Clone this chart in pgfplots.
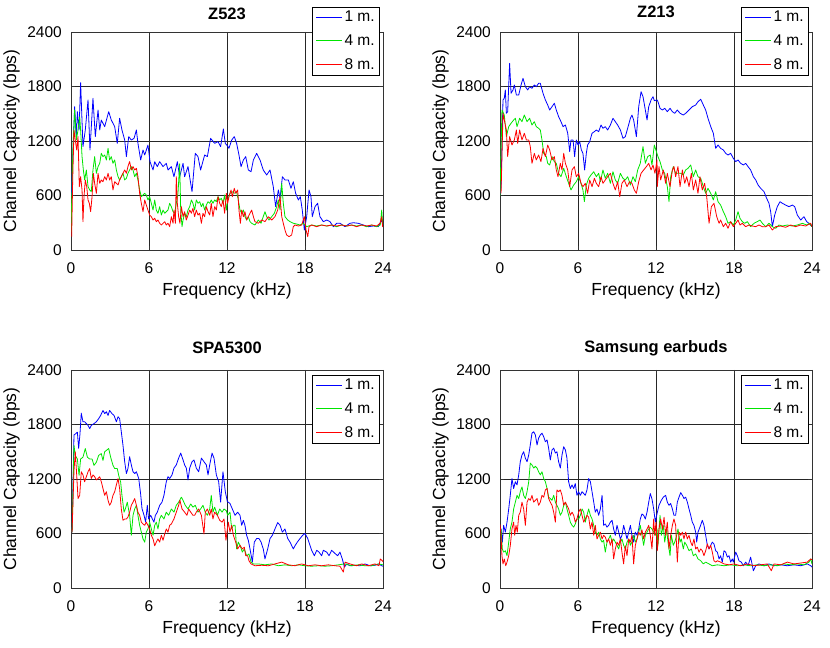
\documentclass[border=0pt]{standalone}
\usepackage{fontspec}
\setmainfont{Liberation Sans}
\usepackage{pgfplots}
\pgfplotsset{compat=1.18}
\definecolor{mblue}{rgb}{0,0,1}
\definecolor{mgreen}{rgb}{0,0.9,0}
\definecolor{mred}{rgb}{1,0,0}
\pgfplotsset{
 capstyle/.style={
  scale only axis, width=312bp, height=218bp,
  xmin=0,xmax=24,ymin=0,ymax=2400,
  xtick={0,6,12,18,24}, ytick={0,600,1200,1800,2400},
  grid=major, major grid style={black!85,line width=0.6bp},
  axis line style={black!80,line width=0.6bp},
  tick align=inside, major tick length=4bp, tick style={black!80, line width=0.6bp},
  /pgf/number format/assume math mode=true,
  /pgf/number format/1000 sep={},
  scaled ticks=false,
  ticklabel style={font=\fontsize{15.5bp}{18bp}\selectfont},
  xticklabel style={inner sep=0pt, anchor=north, yshift=-12bp},
  yticklabel style={inner sep=0pt, anchor=east, xshift=-9bp},
  xlabel={Frequency (kHz)}, ylabel={Channel Capacity (bps)},
  label style={font=\fontsize{17.5bp}{20bp}\selectfont},
  xlabel style={at={(axis description cs:0.5,-0.188)}, anchor=center, inner sep=0pt},
  ylabel style={at={(axis description cs:-0.190,0.5)}, anchor=center, inner sep=0pt},
  title style={font=\bfseries\fontsize{16.5bp}{19bp}\selectfont, anchor=center, inner sep=0pt},
  legend cell align=left,
  legend image code/.code={\draw[mark repeat=2,mark phase=2,#1] plot coordinates {(0bp,0bp) (13bp,0bp) (26bp,0bp)};},
  legend image post style={line width=1.1bp},
  legend style={fill=white, inner xsep=3bp, inner ysep=2bp, row sep=7.5bp,
    font=\fontsize{15.5bp}{18bp}\selectfont},
  every axis plot/.append style={line width=0.8bp, line join=round},
 },
}
\begin{document}
\begin{tikzpicture}
\useasboundingbox (0,0) rectangle (830bp,648bp);
% ---------------- Z523 ----------------
\begin{axis}[capstyle, at={(71bp,398bp)}, anchor=south west, title={Z523},
  title style={at={(axis description cs:0.5,1.055)}},
  legend style={at={(0.990,1.115)}, anchor=north east}]
\addplot[mblue] coordinates {(0.03,600)(0.28,1578)(0.41,1248)(0.49,1523)(0.62,1321)(0.74,1842)(0.92,1138)(1.10,1321)(1.31,1652)(1.46,1101)(1.69,1670)(1.87,1248)(2.08,1541)(2.21,1321)(2.33,1431)(2.59,1358)(2.90,1523)(3.10,1431)(3.36,1358)(3.56,1174)(3.74,1450)(3.92,1321)(4.13,1211)(4.26,1028)(4.44,1248)(4.64,1211)(4.85,1229)(5.03,1321)(5.15,1174)(5.36,991)(5.54,1101)(5.67,1046)(5.92,1156)(6.08,972)(6.31,881)(6.44,972)(6.64,918)(6.82,973)(7.08,918)(7.33,954)(7.46,881)(7.72,918)(7.92,807)(8.18,972)(8.36,807)(8.62,954)(8.74,807)(9.00,918)(9.31,642)(9.56,1064)(9.77,1028)(9.97,881)(10.28,1046)(10.49,1028)(10.74,1229)(11.05,1174)(11.31,1193)(11.51,1138)(11.72,1332)(11.87,1174)(12.08,1138)(12.15,1119)(12.36,1211)(12.56,1248)(12.74,1174)(12.92,1046)(13.08,918)(13.26,991)(13.44,1028)(13.64,881)(13.85,862)(14.03,991)(14.28,1064)(14.54,991)(14.79,881)(15.05,826)(15.31,881)(15.56,697)(15.74,477)(15.95,661)(16.08,569)(16.26,807)(16.46,771)(16.72,771)(16.92,679)(17.10,752)(17.28,624)(17.49,551)(17.64,587)(17.79,440)(17.95,220)(18.13,367)(18.31,661)(18.46,587)(18.56,367)(18.77,477)(18.97,514)(19.15,367)(19.41,312)(19.67,330)(19.92,312)(20.18,257)(20.44,294)(20.69,294)(21.08,257)(21.46,294)(21.72,300)(22.10,294)(22.49,275)(22.87,257)(23.26,264)(23.64,257)(23.90,330)(24.0,280)};
\addlegendentry{1 m.\hspace{16bp}}
\addplot[mgreen] coordinates {(0.0,200)(0.15,1138)(0.28,1541)(0.41,1211)(0.54,1321)(0.67,1468)(0.74,1321)(0.85,1028)(0.95,881)(1.05,771)(1.18,881)(1.31,697)(1.44,661)(1.56,642)(1.69,881)(1.82,1028)(1.95,844)(2.08,918)(2.21,954)(2.33,1064)(2.46,1028)(2.59,1046)(2.72,991)(2.85,1119)(2.97,991)(3.10,1028)(3.23,954)(3.36,991)(3.49,881)(3.62,807)(3.74,771)(3.87,807)(4.00,844)(4.13,771)(4.26,789)(4.38,844)(4.51,881)(4.64,918)(4.77,881)(4.90,807)(5.03,844)(5.15,771)(5.28,661)(5.41,587)(5.54,606)(5.67,624)(5.79,606)(5.92,551)(6.05,587)(6.18,514)(6.31,440)(6.44,551)(6.56,440)(6.69,404)(6.82,477)(6.95,385)(7.08,440)(7.21,404)(7.33,422)(7.46,440)(7.59,514)(7.72,477)(7.85,422)(7.97,404)(8.10,514)(8.23,624)(8.36,950)(8.44,440)(8.54,257)(8.62,330)(8.74,404)(8.87,367)(9.00,440)(9.13,477)(9.26,551)(9.38,514)(9.51,440)(9.64,551)(9.77,514)(9.90,532)(10.03,477)(10.15,514)(10.28,440)(10.41,495)(10.54,532)(10.67,514)(10.79,551)(10.92,514)(11.05,551)(11.18,532)(11.31,587)(11.44,551)(11.56,569)(11.69,514)(11.82,606)(11.95,440)(12.05,551)(12.23,624)(12.41,642)(12.56,624)(12.74,642)(12.87,551)(13.00,440)(13.13,404)(13.26,440)(13.38,367)(13.51,330)(13.64,367)(13.77,312)(13.90,294)(14.15,275)(14.41,330)(14.62,294)(14.79,367)(14.92,422)(15.05,367)(15.23,330)(15.44,367)(15.64,404)(15.82,477)(15.95,551)(16.08,440)(16.21,734)(16.33,514)(16.46,367)(16.67,330)(16.85,312)(17.10,294)(17.36,286)(17.62,275)(17.87,294)(18.13,257)(18.51,275)(18.90,264)(19.28,275)(19.67,264)(20.05,275)(20.44,257)(20.82,275)(21.21,264)(21.59,275)(21.97,264)(22.36,275)(22.74,257)(23.13,275)(23.51,257)(23.79,275)(23.90,440)(23.97,294)(24.0,275)};
\addlegendentry{4 m.\hspace{16bp}}
\addplot[mred] coordinates {(0.05,147)(0.13,771)(0.23,1321)(0.33,1211)(0.44,1101)(0.54,1248)(0.64,697)(0.74,807)(0.85,661)(0.92,312)(1.0,587)(1.10,771)(1.21,697)(1.31,551)(1.41,514)(1.51,422)(1.62,587)(1.72,844)(1.82,734)(1.95,624)(2.08,844)(2.21,734)(2.33,771)(2.46,752)(2.59,807)(2.72,771)(2.85,844)(2.97,771)(3.10,807)(3.23,661)(3.36,752)(3.49,734)(3.62,716)(3.74,771)(3.87,807)(4.00,844)(4.13,881)(4.26,844)(4.38,918)(4.51,973)(4.64,881)(4.77,918)(4.90,881)(5.03,899)(5.15,807)(5.28,624)(5.41,514)(5.54,422)(5.67,551)(5.79,495)(5.92,440)(6.05,385)(6.18,367)(6.31,330)(6.44,349)(6.56,312)(6.69,330)(6.82,294)(6.95,275)(7.08,294)(7.21,312)(7.33,275)(7.46,294)(7.59,257)(7.72,367)(7.85,294)(7.92,440)(8.03,294)(8.10,807)(8.18,514)(8.28,367)(8.38,294)(8.49,477)(8.62,367)(8.74,422)(8.87,330)(9.00,385)(9.13,440)(9.26,404)(9.38,459)(9.51,367)(9.64,440)(9.77,385)(9.90,404)(10.03,294)(10.15,404)(10.28,367)(10.41,477)(10.54,422)(10.67,385)(10.79,514)(10.92,367)(11.05,477)(11.18,440)(11.31,587)(11.44,514)(11.56,477)(11.69,551)(11.82,404)(11.95,624)(12.05,514)(12.15,587)(12.31,661)(12.41,587)(12.56,679)(12.67,624)(12.82,661)(12.92,440)(13.03,294)(13.13,440)(13.26,367)(13.38,422)(13.51,330)(13.64,367)(13.77,404)(13.90,440)(14.03,367)(14.15,312)(14.41,294)(14.67,330)(14.92,312)(15.18,367)(15.44,330)(15.69,367)(15.90,440)(16.08,587)(16.21,367)(16.33,294)(16.46,220)(16.59,165)(16.77,147)(16.97,165)(17.10,257)(17.23,275)(17.49,264)(17.74,275)(17.95,367)(18.08,220)(18.21,147)(18.31,257)(18.51,275)(18.90,257)(19.28,275)(19.67,264)(20.05,275)(20.44,264)(20.82,275)(21.21,264)(21.59,275)(21.97,257)(22.36,275)(22.74,264)(23.13,275)(23.51,264)(23.77,294)(23.90,367)(23.97,257)(24.0,257)};
\addlegendentry{8 m.\hspace{16bp}}
\end{axis}
% ---------------- Z213 ----------------
\begin{axis}[capstyle, at={(500bp,398bp)}, anchor=south west, title={Z213},
  title style={at={(axis description cs:0.5,1.065)}},
  legend style={at={(0.990,1.115)}, anchor=north east}]
\addplot[mblue] coordinates {(0.0,620)(0.08,697)(0.23,1652)(0.33,1670)(0.41,1762)(0.49,1505)(0.59,1523)(0.74,2055)(0.85,1725)(1.0,1762)(1.10,1817)(1.26,1706)(1.44,1706)(1.62,1817)(1.77,1890)(1.95,1798)(2.13,1762)(2.28,1798)(2.46,1780)(2.64,1817)(2.79,1798)(2.97,1835)(3.10,1835)(3.31,1725)(3.49,1652)(3.67,1596)(3.82,1541)(4.00,1578)(4.18,1615)(4.33,1541)(4.51,1468)(4.69,1413)(4.85,1358)(5.03,1376)(5.21,1285)(5.36,1083)(5.46,1211)(5.62,1211)(5.74,1028)(5.87,1211)(6.00,1156)(6.13,1193)(6.26,1101)(6.38,1064)(6.51,881)(6.64,1064)(6.74,1156)(6.90,1193)(7.08,1285)(7.26,1303)(7.41,1321)(7.59,1303)(7.77,1376)(7.92,1340)(8.10,1358)(8.28,1321)(8.49,1376)(8.69,1450)(8.87,1413)(9.05,1376)(9.26,1321)(9.46,1229)(9.64,1248)(9.82,1340)(10.03,1450)(10.15,1486)(10.28,1431)(10.49,1248)(10.67,1578)(10.85,1743)(11.00,1688)(11.18,1541)(11.31,1431)(11.44,1578)(11.62,1652)(11.77,1688)(11.87,1644)(12.08,1652)(12.15,1633)(12.31,1560)(12.49,1541)(12.67,1560)(12.87,1523)(13.08,1560)(13.26,1523)(13.44,1505)(13.64,1541)(13.85,1505)(14.10,1486)(14.28,1505)(14.54,1541)(14.79,1578)(15.05,1596)(15.23,1633)(15.44,1659)(15.64,1596)(15.82,1541)(16.0,1450)(16.21,1358)(16.41,1285)(16.59,1119)(16.77,1156)(16.97,1119)(17.18,1101)(17.36,1064)(17.54,1046)(17.74,1064)(17.95,1009)(18.13,973)(18.31,991)(18.51,954)(18.72,936)(18.90,954)(19.08,918)(19.28,881)(19.49,807)(19.67,771)(19.85,716)(20.05,679)(20.31,642)(20.51,569)(20.69,514)(20.82,422)(20.95,257)(21.13,385)(21.33,477)(21.54,532)(21.72,514)(21.97,495)(22.23,477)(22.49,495)(22.67,477)(22.87,385)(23.13,330)(23.38,367)(23.59,312)(23.77,294)(24.0,257)};
\addlegendentry{1 m.\hspace{16bp}}
\addplot[mgreen] coordinates {(0.0,600)(0.15,1541)(0.33,1486)(0.49,1248)(0.67,1358)(0.85,1395)(1.05,1431)(1.18,1450)(1.31,1358)(1.51,1450)(1.69,1413)(1.87,1486)(2.08,1413)(2.28,1450)(2.46,1376)(2.64,1413)(2.79,1358)(2.97,1340)(3.10,1321)(3.23,1211)(3.36,1064)(3.56,1028)(3.67,954)(3.82,936)(4.00,1028)(4.18,973)(4.33,954)(4.51,844)(4.69,807)(4.90,899)(5.10,807)(5.28,734)(5.46,661)(5.67,716)(5.87,752)(6.05,807)(6.23,734)(6.38,661)(6.49,532)(6.64,716)(6.82,789)(7.00,826)(7.21,862)(7.41,807)(7.59,844)(7.72,752)(7.92,881)(8.10,789)(8.28,844)(8.49,734)(8.69,862)(8.87,771)(9.05,734)(9.26,844)(9.46,789)(9.64,771)(9.82,807)(10.03,716)(10.23,807)(10.41,752)(10.59,881)(10.79,954)(11.0,1138)(11.18,954)(11.36,1028)(11.56,1046)(11.69,936)(11.87,1156)(12.03,1083)(12.15,1028)(12.31,973)(12.49,881)(12.67,844)(12.87,697)(13.0,532)(13.13,807)(13.33,918)(13.51,844)(13.69,844)(13.90,844)(14.10,826)(14.28,881)(14.46,899)(14.67,936)(14.87,807)(15.05,881)(15.23,807)(15.44,789)(15.64,697)(15.82,624)(16.0,679)(16.21,624)(16.41,551)(16.59,642)(16.77,532)(16.97,495)(17.18,422)(17.36,367)(17.54,294)(17.74,312)(17.95,275)(18.13,330)(18.31,422)(18.46,349)(18.64,312)(18.82,294)(19.03,312)(19.28,257)(19.54,294)(19.79,312)(20.0,330)(20.18,294)(20.44,257)(20.69,294)(20.95,257)(21.21,239)(21.46,275)(21.72,264)(22.10,275)(22.49,264)(22.87,275)(23.26,294)(23.59,275)(23.79,294)(24.0,257)};
\addlegendentry{4 m.\hspace{16bp}}
\addplot[mred] coordinates {(0.08,624)(0.23,1505)(0.33,1431)(0.49,1321)(0.59,1028)(0.74,1248)(0.92,1156)(1.10,1211)(1.26,1321)(1.36,1174)(1.51,1321)(1.69,1211)(1.87,1285)(2.03,1211)(2.21,1211)(2.33,1138)(2.46,954)(2.64,1064)(2.79,991)(2.97,1046)(3.15,973)(3.31,1119)(3.49,1028)(3.67,1156)(3.82,1101)(4.0,991)(4.18,1028)(4.33,881)(4.46,807)(4.64,954)(4.77,881)(4.90,1064)(5.03,954)(5.21,881)(5.36,697)(5.54,881)(5.72,918)(5.87,807)(6.05,844)(6.23,734)(6.38,697)(6.56,734)(6.74,624)(6.90,771)(7.08,697)(7.26,789)(7.41,734)(7.59,697)(7.77,807)(7.92,734)(8.10,771)(8.28,807)(8.49,844)(8.69,734)(8.87,661)(9.05,752)(9.21,587)(9.38,734)(9.56,771)(9.77,697)(9.97,752)(10.15,734)(10.33,661)(10.49,624)(10.67,752)(10.85,844)(11.05,881)(11.26,918)(11.44,954)(11.62,881)(11.77,936)(11.92,844)(12.08,991)(12.10,697)(12.23,918)(12.36,771)(12.56,881)(12.74,734)(12.87,844)(13.08,697)(13.26,881)(13.38,918)(13.51,807)(13.69,918)(13.85,697)(14.03,881)(14.21,734)(14.36,807)(14.54,697)(14.72,844)(14.87,661)(15.05,771)(15.23,624)(15.38,807)(15.56,661)(15.74,734)(15.90,587)(16.08,294)(16.26,477)(16.46,514)(16.67,367)(16.85,294)(16.97,330)(17.18,257)(17.36,294)(17.54,239)(17.74,312)(17.95,257)(18.13,294)(18.31,330)(18.46,275)(18.64,294)(18.90,257)(19.15,275)(19.41,264)(19.67,257)(19.92,275)(20.18,257)(20.44,257)(20.69,275)(20.95,220)(21.21,257)(21.59,264)(21.97,250)(22.36,275)(22.74,257)(23.13,275)(23.51,264)(23.90,294)(24.0,257)};
\addlegendentry{8 m.\hspace{16bp}}
\end{axis}
% ---------------- SPA5300 ----------------
\begin{axis}[capstyle, at={(71bp,60bp)}, anchor=south west, title={SPA5300},
  title style={at={(axis description cs:0.5,1.072)}},
  legend style={at={(0.990,0.977)}, anchor=north east}]
\addplot[mblue] coordinates {(0.08,613)(0.23,1685)(0.33,1695)(0.49,1715)(0.59,1537)(0.69,1695)(0.79,1925)(0.92,1830)(1.05,1830)(1.18,1810)(1.31,1790)(1.44,1755)(1.56,1790)(1.77,1810)(1.95,1830)(2.13,1865)(2.28,1900)(2.46,1955)(2.59,1920)(2.72,1940)(2.85,1900)(2.97,1955)(3.15,1920)(3.31,1900)(3.49,1830)(3.62,1885)(3.74,1865)(3.87,1720)(4.0,1570)(4.13,1390)(4.26,1260)(4.38,1315)(4.51,1445)(4.64,1355)(4.77,1280)(4.90,1260)(5.03,1280)(5.21,1205)(5.36,1030)(5.46,875)(5.62,800)(5.74,725)(5.87,910)(5.97,760)(6.13,800)(6.26,760)(6.38,725)(6.49,800)(6.64,835)(6.82,910)(7.0,945)(7.15,1020)(7.33,1170)(7.46,1225)(7.59,1205)(7.77,1245)(7.92,1320)(8.10,1355)(8.28,1430)(8.44,1485)(8.62,1410)(8.74,1355)(8.87,1320)(9.0,1190)(9.13,1320)(9.31,1390)(9.46,1410)(9.64,1320)(9.82,1280)(10.03,1430)(10.23,1390)(10.41,1355)(10.54,1245)(10.67,1355)(10.85,1485)(11.0,1430)(11.18,1245)(11.36,1170)(11.51,945)(11.69,1280)(11.87,1060)(12.03,950)(12.10,945)(12.23,930)(12.41,870)(12.62,800)(12.82,835)(13.0,800)(13.13,690)(13.26,745)(13.38,690)(13.51,580)(13.64,525)(13.77,430)(13.95,285)(14.10,505)(14.28,545)(14.46,545)(14.62,505)(14.79,430)(14.92,320)(15.13,430)(15.31,545)(15.49,580)(15.69,650)(15.90,720)(16.08,690)(16.26,615)(16.46,650)(16.67,545)(16.85,505)(17.10,430)(17.23,465)(17.41,505)(17.62,545)(17.82,580)(18.0,600)(18.21,545)(18.38,470)(18.51,415)(18.72,355)(18.90,415)(19.08,395)(19.28,355)(19.41,415)(19.67,395)(19.85,355)(20.05,415)(20.31,380)(20.51,355)(20.69,395)(20.87,320)(21.03,230)(21.21,265)(21.46,245)(21.85,250)(22.23,245)(22.62,265)(23.0,245)(23.38,250)(23.69,265)(23.90,245)(24.0,240)};
\addlegendentry{1 m.\hspace{16bp}}
\addplot[mgreen] coordinates {(0.08,613)(0.23,1570)(0.33,1460)(0.49,1420)(0.62,1240)(0.74,1420)(0.92,1440)(1.10,1535)(1.26,1440)(1.44,1420)(1.62,1420)(1.77,1350)(1.95,1385)(2.13,1460)(2.33,1480)(2.46,1405)(2.59,1500)(2.72,1515)(2.90,1535)(3.05,1440)(3.23,1350)(3.36,1315)(3.56,1315)(3.67,1240)(3.82,1165)(3.92,1020)(4.08,835)(4.18,870)(4.33,945)(4.51,800)(4.64,580)(4.77,800)(4.90,870)(5.03,910)(5.15,800)(5.28,690)(5.41,615)(5.54,540)(5.67,505)(5.79,615)(5.92,650)(6.05,725)(6.18,650)(6.31,580)(6.44,690)(6.56,725)(6.69,650)(6.82,760)(6.95,800)(7.15,760)(7.33,835)(7.51,800)(7.72,870)(7.92,835)(8.10,910)(8.28,945)(8.49,1000)(8.62,965)(8.79,910)(9.0,870)(9.21,925)(9.38,890)(9.56,910)(9.77,835)(9.97,870)(10.15,910)(10.33,835)(10.49,800)(10.67,870)(10.79,1020)(10.92,835)(11.05,890)(11.26,800)(11.44,870)(11.62,835)(11.77,870)(11.95,850)(12.05,800)(12.23,835)(12.36,650)(12.49,690)(12.62,690)(12.74,430)(12.87,505)(13.0,470)(13.18,395)(13.33,430)(13.51,355)(13.69,375)(13.85,285)(14.03,265)(14.41,265)(14.92,255)(15.44,265)(15.95,245)(16.46,255)(16.97,245)(17.49,255)(18.0,245)(18.51,240)(19.03,245)(19.54,240)(20.05,245)(20.56,255)(21.03,265)(21.59,245)(22.10,255)(22.62,245)(23.13,245)(23.64,265)(24.0,255)};
\addlegendentry{4 m.\hspace{16bp}}
\addplot[mred] coordinates {(0.08,613)(0.23,1290)(0.33,1500)(0.44,1240)(0.54,985)(0.67,1020)(0.79,1280)(0.92,1245)(1.05,1170)(1.18,1225)(1.31,1280)(1.44,1315)(1.56,1205)(1.69,1245)(1.82,1225)(1.95,1190)(2.08,1205)(2.21,1225)(2.33,1170)(2.46,1095)(2.59,1020)(2.72,1060)(2.85,965)(2.97,910)(3.10,945)(3.23,1020)(3.36,1060)(3.49,1135)(3.62,1205)(3.74,1095)(3.87,870)(4.0,745)(4.13,760)(4.26,760)(4.38,780)(4.51,835)(4.64,910)(4.77,945)(4.90,985)(5.03,910)(5.15,835)(5.28,800)(5.41,725)(5.54,705)(5.67,690)(5.79,725)(5.92,690)(6.05,650)(6.18,580)(6.31,540)(6.44,465)(6.56,505)(6.69,540)(6.82,505)(6.95,580)(7.08,525)(7.21,595)(7.33,650)(7.46,615)(7.59,690)(7.72,705)(7.92,760)(8.10,835)(8.28,910)(8.38,965)(8.54,870)(8.74,835)(8.92,800)(9.05,870)(9.21,835)(9.38,800)(9.51,800)(9.64,835)(9.82,870)(10.03,800)(10.23,595)(10.33,835)(10.49,870)(10.67,800)(10.79,870)(10.92,760)(11.05,835)(11.26,800)(11.44,745)(11.62,725)(11.77,760)(11.92,525)(12.03,650)(12.10,725)(12.23,615)(12.36,690)(12.49,580)(12.67,505)(12.82,430)(13.0,470)(13.18,430)(13.33,450)(13.44,355)(13.59,355)(13.69,300)(13.85,265)(14.15,245)(14.67,250)(15.18,245)(15.69,265)(16.21,285)(16.72,255)(17.23,245)(17.74,265)(18.26,245)(18.77,255)(19.28,245)(19.79,255)(20.31,245)(20.69,240)(20.95,175)(21.08,285)(21.46,265)(21.97,245)(22.36,265)(22.87,245)(23.38,265)(23.69,245)(23.79,320)(23.95,300)(24.0,290)};
\addlegendentry{8 m.\hspace{16bp}}
\end{axis}
% ---------------- Samsung earbuds ----------------
\begin{axis}[capstyle, at={(500bp,60bp)}, anchor=south west, title={Samsung earbuds},
  title style={at={(axis description cs:0.5,1.072)}},
  legend style={at={(0.990,0.977)}, anchor=north east}]
\addplot[mblue] coordinates {(0.0,650)(0.08,650)(0.18,505)(0.28,690)(0.41,615)(0.54,725)(0.67,870)(0.79,1020)(0.92,1205)(1.05,1095)(1.18,1170)(1.31,1135)(1.44,1245)(1.56,1390)(1.69,1465)(1.82,1500)(1.95,1430)(2.08,1390)(2.21,1465)(2.33,1575)(2.46,1705)(2.59,1720)(2.72,1685)(2.85,1575)(2.97,1650)(3.10,1685)(3.23,1705)(3.36,1665)(3.49,1610)(3.62,1630)(3.74,1540)(3.87,1410)(4.0,1520)(4.13,1540)(4.26,1485)(4.38,1500)(4.51,1390)(4.64,1320)(4.77,1465)(4.90,1555)(5.03,1520)(5.15,1430)(5.28,1170)(5.41,1095)(5.54,1135)(5.67,1095)(5.79,1150)(5.92,1020)(6.05,1060)(6.18,1020)(6.31,1060)(6.44,1040)(6.56,1020)(6.69,1080)(6.82,1205)(6.95,1170)(7.08,1060)(7.21,945)(7.33,835)(7.46,870)(7.59,800)(7.72,870)(7.85,1020)(7.97,690)(8.10,705)(8.23,670)(8.36,690)(8.49,725)(8.62,745)(8.74,650)(8.87,580)(9.0,690)(9.13,615)(9.26,540)(9.38,580)(9.51,690)(9.64,615)(9.77,540)(9.90,615)(10.03,690)(10.15,580)(10.28,505)(10.41,615)(10.54,580)(10.67,650)(10.79,760)(10.92,815)(11.05,800)(11.18,760)(11.31,835)(11.44,945)(11.56,1040)(11.69,980)(11.82,870)(11.95,725)(12.05,800)(12.23,910)(12.41,965)(12.56,1000)(12.74,1020)(12.87,945)(13.0,910)(13.13,930)(13.26,870)(13.38,800)(13.51,800)(13.64,945)(13.77,1000)(13.90,1050)(14.03,1020)(14.15,985)(14.28,1000)(14.41,945)(14.54,870)(14.67,800)(14.79,725)(14.92,690)(15.05,615)(15.13,505)(15.23,615)(15.38,670)(15.56,745)(15.69,690)(15.82,580)(15.95,470)(16.08,430)(16.21,470)(16.33,505)(16.46,485)(16.59,410)(16.72,395)(16.85,320)(16.97,355)(17.10,285)(17.23,410)(17.36,395)(17.49,340)(17.62,355)(17.74,285)(17.87,320)(17.95,285)(18.13,395)(18.26,355)(18.38,300)(18.56,285)(18.72,245)(18.90,285)(19.08,245)(19.28,340)(19.49,190)(19.67,245)(19.92,265)(20.31,245)(20.69,265)(21.08,245)(21.59,255)(22.10,245)(22.62,255)(23.13,245)(23.64,265)(23.90,245)(24.0,230)};
\addlegendentry{1 m.\hspace{16bp}}
\addplot[mgreen] coordinates {(0.0,650)(0.08,650)(0.18,430)(0.28,395)(0.41,410)(0.54,355)(0.67,505)(0.79,650)(0.92,725)(1.05,870)(1.18,945)(1.31,1020)(1.44,985)(1.56,1060)(1.69,1113)(1.82,1020)(1.95,985)(2.08,1060)(2.21,1170)(2.33,1375)(2.46,1355)(2.59,1320)(2.72,1340)(2.85,1320)(2.97,1280)(3.10,1245)(3.23,1280)(3.36,1205)(3.49,1170)(3.62,1095)(3.74,1000)(3.87,985)(4.0,965)(4.13,1020)(4.26,945)(4.38,910)(4.51,870)(4.64,800)(4.77,835)(4.90,910)(5.03,945)(5.15,870)(5.28,800)(5.41,725)(5.54,690)(5.67,670)(5.79,705)(5.92,760)(6.05,760)(6.18,800)(6.31,870)(6.44,835)(6.56,725)(6.69,800)(6.82,870)(6.95,800)(7.08,760)(7.21,690)(7.33,615)(7.46,580)(7.59,615)(7.72,540)(7.85,505)(7.97,525)(8.10,395)(8.23,505)(8.36,540)(8.49,580)(8.62,505)(8.74,540)(8.87,505)(9.0,470)(9.13,430)(9.26,505)(9.38,540)(9.51,470)(9.64,430)(9.77,505)(9.90,540)(10.03,470)(10.15,505)(10.28,580)(10.41,505)(10.54,540)(10.67,615)(10.79,690)(10.92,580)(11.05,470)(11.18,580)(11.31,615)(11.44,650)(11.56,670)(11.69,650)(11.82,615)(11.95,580)(12.08,650)(12.15,470)(12.31,800)(12.41,580)(12.56,690)(12.67,505)(12.82,650)(12.92,505)(13.08,355)(13.18,580)(13.33,470)(13.44,505)(13.59,580)(13.69,650)(13.85,505)(13.95,540)(14.10,430)(14.21,505)(14.36,470)(14.54,410)(14.72,430)(14.87,355)(15.05,375)(15.23,320)(15.44,300)(15.64,265)(15.82,285)(16.08,265)(16.33,245)(16.72,255)(17.23,245)(17.74,255)(18.26,245)(18.77,255)(19.28,245)(19.79,255)(20.31,245)(20.82,255)(21.33,245)(21.85,265)(22.36,255)(22.87,265)(23.38,255)(23.77,285)(23.90,320)(24.0,265)};
\addlegendentry{4 m.\hspace{16bp}}
\addplot[mred] coordinates {(0.0,700)(0.08,580)(0.15,355)(0.23,265)(0.33,320)(0.44,245)(0.54,285)(0.67,355)(0.79,465)(0.92,650)(1.05,725)(1.13,580)(1.23,690)(1.33,615)(1.44,800)(1.56,835)(1.69,945)(1.82,870)(1.95,690)(2.08,945)(2.21,985)(2.33,965)(2.46,1020)(2.59,945)(2.72,965)(2.85,985)(2.97,910)(3.10,945)(3.23,1020)(3.36,1000)(3.49,1080)(3.62,1095)(3.74,985)(3.87,945)(4.0,910)(4.13,835)(4.26,725)(4.38,1080)(4.51,1060)(4.64,1080)(4.77,1020)(4.90,910)(5.03,945)(5.15,910)(5.28,870)(5.41,800)(5.54,835)(5.67,800)(5.79,725)(5.92,760)(6.05,835)(6.18,870)(6.31,800)(6.44,725)(6.56,760)(6.69,800)(6.82,780)(6.95,650)(7.08,725)(7.21,580)(7.33,690)(7.46,540)(7.59,580)(7.72,615)(7.85,540)(7.97,580)(8.10,560)(8.23,505)(8.36,540)(8.49,470)(8.62,540)(8.74,320)(8.87,430)(9.0,505)(9.13,470)(9.26,540)(9.38,395)(9.51,265)(9.64,465)(9.77,355)(9.90,540)(10.03,505)(10.15,580)(10.28,265)(10.41,470)(10.54,540)(10.67,615)(10.79,580)(10.92,640)(11.05,540)(11.18,615)(11.31,650)(11.44,690)(11.56,580)(11.69,430)(11.82,760)(11.90,580)(12.0,725)(12.10,410)(12.23,650)(12.36,760)(12.49,650)(12.62,780)(12.74,580)(12.87,725)(13.0,430)(13.13,580)(13.26,690)(13.38,760)(13.51,690)(13.64,285)(13.77,615)(13.90,580)(14.03,615)(14.15,540)(14.28,615)(14.41,540)(14.54,580)(14.67,505)(14.79,465)(14.92,540)(15.05,430)(15.18,450)(15.31,395)(15.44,430)(15.56,410)(15.69,355)(15.82,410)(15.95,485)(16.08,430)(16.21,470)(16.33,395)(16.46,300)(16.59,285)(16.72,300)(16.97,285)(17.23,265)(17.62,255)(18.0,265)(18.51,245)(19.03,265)(19.54,245)(20.05,255)(20.56,265)(20.87,190)(21.08,265)(21.59,255)(22.10,285)(22.62,265)(23.13,275)(23.64,285)(23.90,320)(24.0,310)};
\addlegendentry{8 m.\hspace{16bp}}
\end{axis}
\end{tikzpicture}
\end{document}
